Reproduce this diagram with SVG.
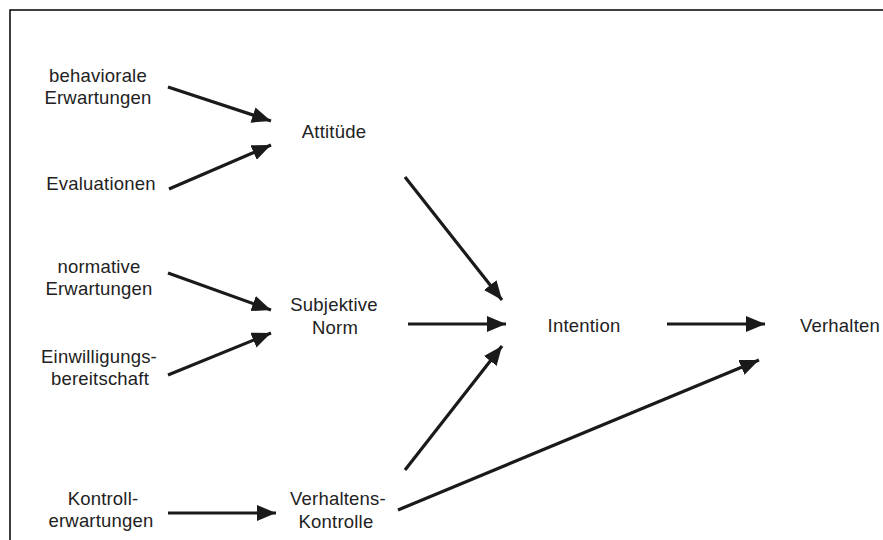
<svg xmlns="http://www.w3.org/2000/svg" width="883" height="540" viewBox="0 0 883 540">
<style>
text{font-family:"Liberation Sans",Arial,sans-serif;font-size:18.5px;letter-spacing:0.2px;fill:#222;text-anchor:middle}
.c line{stroke:#1a1a1a;stroke-width:3.2;marker-end:url(#ah)}
</style>
<defs>
<marker id="ah" markerUnits="userSpaceOnUse" markerWidth="22" markerHeight="18" refX="19" refY="8" orient="auto">
<path d="M0,0 L19,8 L0,16 z" fill="#1a1a1a"/>
</marker>
</defs>
<rect width="883" height="540" fill="#fff"/>
<path d="M10,540 V10 H883" fill="none" stroke="#000" stroke-width="1.5"/>
<g id="behav"><text x="98" y="82">behaviorale</text><text x="98" y="104">Erwartungen</text></g>
<g id="eval"><text x="101" y="190">Evaluationen</text></g>
<g id="norm"><text x="99" y="273">normative</text><text x="99" y="295">Erwartungen</text></g>
<g id="einw"><text x="99" y="363">Einwilligungs-</text><text x="100" y="385">bereitschaft</text></g>
<g id="kontr"><text x="103" y="505">Kontroll-</text><text x="101" y="527">erwartungen</text></g>
<g id="att"><text x="334" y="138">Attitüde</text></g>
<g id="sn"><text x="334" y="311">Subjektive</text><text x="335" y="334">Norm</text></g>
<g id="vk"><text x="338" y="505">Verhaltens-</text><text x="336" y="528">Kontrolle</text></g>
<g id="int"><text x="584" y="332">Intention</text></g>
<g id="verh"><text x="840" y="332">Verhalten</text></g>
<g class="c" id="connectors">
<line x1="168" y1="87" x2="271" y2="121"/>
<line x1="169" y1="189" x2="271" y2="145"/>
<line x1="168" y1="273" x2="271" y2="310"/>
<line x1="168" y1="375" x2="271" y2="333"/>
<line x1="405" y1="177" x2="502" y2="300"/>
<line x1="408" y1="324" x2="506" y2="324"/>
<line x1="405" y1="470" x2="502" y2="346"/>
<line x1="667" y1="324" x2="765" y2="324"/>
<line x1="398" y1="510" x2="759" y2="360"/>
<line x1="168" y1="513" x2="276" y2="513"/>
</g>
</svg>
